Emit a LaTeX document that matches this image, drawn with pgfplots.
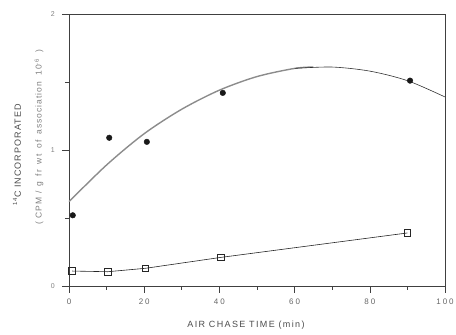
\documentclass[border=0pt]{standalone}
\usepackage{fontspec}
\setmainfont{Liberation Sans}
\newfontfamily\tickfont[LetterSpace=25]{Liberation Sans}
\newfontfamily\xlabfont[LetterSpace=15]{Liberation Sans}
\newfontfamily\ylabfont[LetterSpace=12]{Liberation Sans}
\usepackage{pgfplots}
\pgfplotsset{compat=1.18}
\usetikzlibrary{calc}
\begin{document}
\begin{tikzpicture}
\begin{axis}[
 scale only axis, width=376pt, height=272pt,
 xmin=0,xmax=100,ymin=0,ymax=2,
 xtick={0,20,...,100}, minor xtick={10,30,...,90},
 ytick={0,1,2}, minor ytick={0.5,1.5},
 xtick pos=bottom, ytick pos=left, tick align=outside,
 major tick length=7pt, minor tick length=4pt,
 axis line style={black!75, line width=0.6pt},
 every tick/.style={black!75, line width=0.6pt},
 /pgf/number format/assume math mode=true,
 xticklabel style={font=\tickfont\fontsize{8}{9}\selectfont, text=black!60, yshift=-2.5pt},
 yticklabel style={font=\fontsize{7}{8}\selectfont, text=black!50, xshift=-3.7pt},
 xlabel={AIR CHASE TIME (min)},
 xlabel style={font=\xlabfont\fontsize{9}{10}\selectfont, text=black!70, at={(axis description cs:0.5,0)}, anchor=center, yshift=-39pt, xshift=-11pt},
 clip=false,
]
\draw[black!75, line width=0.6pt] (axis cs:-1.6,0) -- (axis cs:0,0);
\addplot[black!45, line width=1.4pt, smooth] coordinates {(0,0.62)(10,0.89)(20,1.12)(30,1.30)(40,1.44)(50,1.54)(60,1.60)(65,1.61)};
\addplot[black!80, line width=0.6pt, smooth] coordinates {(60,1.60)(70,1.61)(80,1.58)(90,1.51)(100,1.39)};
\addplot[black!85, line width=0.6pt, mark=square, mark size=3.3pt, mark options={fill=white}] coordinates {(0.8,0.11)(10.3,0.105)(20.3,0.13)(40.3,0.21)(90,0.39)};
\addplot[only marks, mark=*, mark size=2.8pt, black!90] coordinates {(1,0.52)(10.7,1.09)(20.7,1.06)(40.9,1.42)(90.7,1.51)};
\end{axis}
\node[rotate=90, font=\ylabfont\fontsize{9}{10}\selectfont, text=black!70] at ($(current axis.south west)+(-52pt,131pt)$) {\textsuperscript{14}C INCORPORATED};
\node[rotate=90, font=\ylabfont\fontsize{8.5}{10}\selectfont, text=black!50] at ($(current axis.south west)+(-30pt,149pt)$) {(\hspace{3pt}CPM\hspace{4pt}/\hspace{4pt}g\hspace{6pt}fr\hspace{6pt}wt\hspace{6pt}of\hspace{6pt}association\hspace{6pt}10\textsuperscript{-6}\hspace{6pt})};
\pgfresetboundingbox
\path[use as bounding box] ($(current axis.south west)+(-69pt,-49pt)$) rectangle ($(current axis.north east)+(11pt,14pt)$);
\end{tikzpicture}
\end{document}
